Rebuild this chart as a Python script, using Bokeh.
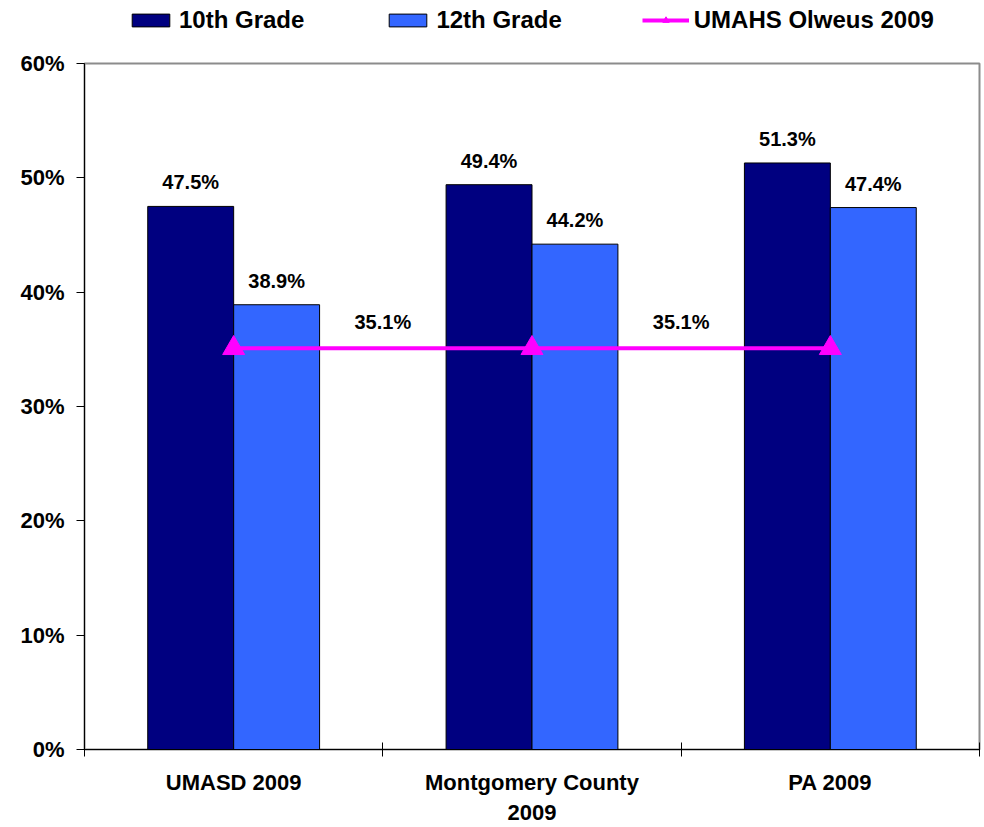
from bokeh.plotting import figure
from bokeh.layouts import column
from bokeh.models import (ColumnDataSource, FixedTicker, NumeralTickFormatter,
                          Legend, LegendItem, Range1d)
from bokeh.core.properties import value
from bokeh.embed import file_html
from bokeh.resources import INLINE

# ---- data ----
categories = ["UMASD 2009", "Montgomery County\n2009", "PA 2009"]
grade10 = [0.475, 0.494, 0.513]
grade12 = [0.389, 0.442, 0.474]
olweus = [0.351, 0.351, 0.351]
olweus_labels = ["35.1%", "35.1%", ""]
y_ticks = [0.0, 0.1, 0.2, 0.3, 0.4, 0.5, 0.6]
series_names = ["10th Grade", "12th Grade", "UMAHS Olweus 2009"]

FONT = "Liberation Sans"
C10, C12, CL = "#000080", "#3366FF", "#FF00FF"
centers = [i + 0.5 for i in range(len(categories))]
bw = 0.288

LEG_H = 40

src10 = ColumnDataSource(dict(x=[c - bw / 2 for c in centers], top=grade10,
                              lab=[f"{v*100:.1f}%" for v in grade10]))
src12 = ColumnDataSource(dict(x=[c + bw / 2 for c in centers], top=grade12,
                              lab=[f"{v*100:.1f}%" for v in grade12]))
srcl = ColumnDataSource(dict(x=centers, y=olweus, lx=[c + 0.5 for c in centers],
                             lab=olweus_labels))


def draw_series(fig, visible=True):
    a = fig.vbar(x="x", top="top", width=bw, source=src10, fill_color=C10,
                 line_color="black", line_width=1, visible=visible)
    b = fig.vbar(x="x", top="top", width=bw, source=src12, fill_color=C12,
                 line_color="black", line_width=1, visible=visible)
    c = fig.line(x="x", y="y", source=srcl, line_color=CL, line_width=4,
                 visible=visible)
    d = fig.scatter(x="x", y="y", source=srcl, marker="triangle", size=22,
                    fill_color=CL, line_color=CL, visible=visible)
    return a, b, c, d


# ---- main chart ----
p = figure(width=984, height=827 - LEG_H, output_backend="svg", toolbar_location=None,
           x_range=Range1d(0, len(categories)), y_range=Range1d(0, 0.6),
           min_border_left=84, min_border_right=5, min_border_top=63 - LEG_H,
           min_border_bottom=77)
p.xgrid.grid_line_color = None
p.ygrid.grid_line_color = None
p.outline_line_color = "#8c8c8c"
p.outline_line_width = 2
p.background_fill_color = "white"

draw_series(p)

for s in (src10, src12):
    p.text(x="x", y="top", text="lab", source=s, text_font=value(FONT),
           text_font_style="bold", text_font_size="20px", text_align="center",
           text_baseline="bottom", y_offset=-13, text_color="black")
p.text(x="lx", y="y", text="lab", source=srcl, text_font=value(FONT),
       text_font_style="bold", text_font_size="20px", text_align="center",
       text_baseline="bottom", y_offset=-15, text_color="black")

xa = p.xaxis[0]
xa.ticker = FixedTicker(ticks=centers, minor_ticks=[float(i) for i in range(len(categories) + 1)])
xa.major_label_overrides = {c: lab for c, lab in zip(centers, categories)}
xa.major_tick_line_color = None
xa.major_tick_out = 0
xa.major_tick_in = 0
xa.minor_tick_line_color = "black"
xa.minor_tick_in = 7
xa.minor_tick_out = 7
xa.axis_line_color = "black"
xa.major_label_text_font = FONT
xa.major_label_text_font_style = "bold"
xa.major_label_text_font_size = "22px"
xa.major_label_text_color = "black"
xa.major_label_standoff = 13
xa.major_label_text_line_height = 1.2

ya = p.yaxis[0]
ya.ticker = FixedTicker(ticks=y_ticks, minor_ticks=[])
ya.formatter = NumeralTickFormatter(format="0%")
ya.major_tick_in = 0
ya.major_tick_out = 8
ya.major_tick_line_color = "black"
ya.axis_line_color = "black"
ya.major_label_text_font = FONT
ya.major_label_text_font_style = "bold"
ya.major_label_text_font_size = "22px"
ya.major_label_text_color = "black"
ya.major_label_standoff = 12

# ---- legend strip (same series, hidden; only the legend shows) ----
lg = figure(width=984, height=LEG_H, output_backend="svg", toolbar_location=None,
            x_range=Range1d(0, len(categories)), y_range=Range1d(0, 0.6), min_border=0)
lg.axis.visible = False
lg.xgrid.grid_line_color = None
lg.ygrid.grid_line_color = None
lg.outline_line_color = None
d10, d12, dl, ds = draw_series(lg, visible=False)

legend = Legend(items=[LegendItem(label=series_names[0], renderers=[d10]),
                       LegendItem(label=series_names[1], renderers=[d12]),
                       LegendItem(label=series_names[2], renderers=[dl, ds])],
                orientation="horizontal", location=(43, 6),
                glyph_width=47, glyph_height=16, label_standoff=5, spacing=80,
                padding=0, margin=0, border_line_color=None,
                background_fill_alpha=0, inactive_fill_alpha=0,
                label_text_font=FONT, label_text_font_style="bold",
                label_text_font_size="24px", label_text_color="black")
lg.add_layout(legend)

layout = column(lg, p, spacing=0)
open("out.html", "w").write(file_html(layout, INLINE))
